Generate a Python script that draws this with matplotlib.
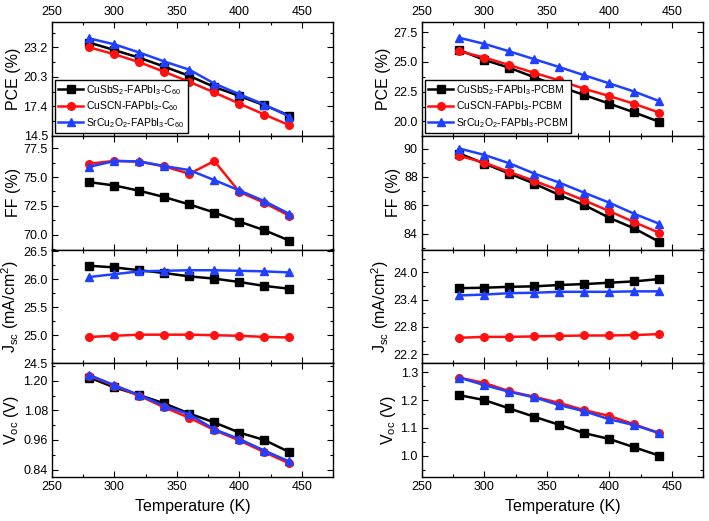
import matplotlib
matplotlib.use("Agg")
import matplotlib.pyplot as plt
from matplotlib.ticker import AutoMinorLocator, FormatStrFormatter, FixedLocator

plt.rcParams['font.family'] = ['Liberation Sans', 'DejaVu Sans']
plt.rcParams['mathtext.default'] = 'regular'

temps = [280, 300, 320, 340, 360, 380, 400, 420, 440]

# left column: ETL = C60
pce_c60_sbs = [23.67, 22.93, 22.18, 21.30, 20.39, 19.30, 18.42, 17.50, 16.49]
pce_c60_scn = [23.20, 22.52, 21.74, 20.79, 19.81, 18.76, 17.67, 16.59, 15.54]
pce_c60_sr = [24.08, 23.50, 22.69, 21.81, 21.00, 19.64, 18.59, 17.57, 16.39]
ff_c60_sbs = [74.56, 74.27, 73.81, 73.26, 72.62, 71.92, 71.13, 70.38, 69.48]
ff_c60_scn = [76.16, 76.42, 76.34, 75.93, 75.29, 76.40, 73.72, 72.76, 71.63]
ff_c60_sr = [75.90, 76.40, 76.37, 75.96, 75.61, 74.74, 73.84, 72.91, 71.80]
jsc_c60_sbs = [26.24, 26.21, 26.16, 26.11, 26.05, 26.01, 25.95, 25.88, 25.83]
jsc_c60_scn = [24.97, 24.99, 25.01, 25.01, 25.01, 25.00, 24.99, 24.97, 24.96]
jsc_c60_sr = [26.04, 26.09, 26.14, 26.15, 26.16, 26.16, 26.15, 26.14, 26.12]
voc_c60_sbs = [1.213, 1.173, 1.142, 1.108, 1.067, 1.031, 0.990, 0.960, 0.911]
voc_c60_scn = [1.220, 1.180, 1.139, 1.092, 1.050, 1.000, 0.958, 0.911, 0.865]
voc_c60_sr = [1.223, 1.182, 1.142, 1.098, 1.064, 1.003, 0.964, 0.917, 0.873]

# right column: ETL = PCBM
pce_pcbm_sbs = [26.00, 25.17, 24.51, 23.71, 22.94, 22.22, 21.50, 20.76, 19.97]
pce_pcbm_scn = [25.89, 25.37, 24.74, 24.08, 23.45, 22.74, 22.14, 21.48, 20.74]
pce_pcbm_sr = [27.03, 26.52, 25.89, 25.23, 24.57, 23.88, 23.20, 22.51, 21.71]
ff_pcbm_sbs = [89.65, 88.94, 88.24, 87.53, 86.73, 86.02, 85.13, 84.38, 83.44]
ff_pcbm_scn = [89.48, 89.01, 88.35, 87.72, 87.06, 86.35, 85.60, 84.82, 84.07]
ff_pcbm_sr = [90.00, 89.55, 88.96, 88.24, 87.60, 86.89, 86.19, 85.41, 84.71]
jsc_pcbm_sbs = [23.65, 23.66, 23.68, 23.69, 23.72, 23.74, 23.77, 23.80, 23.85]
jsc_pcbm_scn = [22.56, 22.58, 22.58, 22.59, 22.60, 22.61, 22.61, 22.62, 22.64]
jsc_pcbm_sr = [23.49, 23.51, 23.54, 23.55, 23.57, 23.57, 23.57, 23.58, 23.58]
voc_pcbm_sbs = [1.218, 1.200, 1.170, 1.140, 1.111, 1.081, 1.060, 1.030, 1.000]
voc_pcbm_scn = [1.281, 1.262, 1.232, 1.212, 1.190, 1.164, 1.143, 1.113, 1.081]
voc_pcbm_sr = [1.281, 1.254, 1.230, 1.210, 1.182, 1.160, 1.131, 1.110, 1.081]

labels_c60 = ['CuSbS$_2$-FAPbI$_3$-C$_{60}$', 'CuSCN-FAPbI$_3$-C$_{60}$',
              'SrCu$_2$O$_2$-FAPbI$_3$-C$_{60}$']
labels_pcbm = ['CuSbS$_2$-FAPbI$_3$-PCBM', 'CuSCN-FAPbI$_3$-PCBM',
               'SrCu$_2$O$_2$-FAPbI$_3$-PCBM']

colors = ['black', '#ff1010', '#2040ff']
markers = ['s', 'o', '^']

ylabels = ['PCE (%)', 'FF (%)', 'J$_{sc}$ (mA/cm$^2$)', 'V$_{oc}$ (V)']

left_data = [
    (pce_c60_sbs, pce_c60_scn, pce_c60_sr),
    (ff_c60_sbs, ff_c60_scn, ff_c60_sr),
    (jsc_c60_sbs, jsc_c60_scn, jsc_c60_sr),
    (voc_c60_sbs, voc_c60_scn, voc_c60_sr),
]
right_data = [
    (pce_pcbm_sbs, pce_pcbm_scn, pce_pcbm_sr),
    (ff_pcbm_sbs, ff_pcbm_scn, ff_pcbm_sr),
    (jsc_pcbm_sbs, jsc_pcbm_scn, jsc_pcbm_sr),
    (voc_pcbm_sbs, voc_pcbm_scn, voc_pcbm_sr),
]

left_ylims = [(14.5, 25.7), (68.7, 78.6), (24.5, 26.53), (0.81, 1.271)]
left_yticks = [[14.5, 17.4, 20.3, 23.2], [70.0, 72.5, 75.0, 77.5],
               [24.5, 25.0, 25.5, 26.0, 26.5], [0.84, 0.96, 1.08, 1.20]]
left_fmt = ['%.1f', '%.1f', '%.1f', '%.2f']

right_ylims = [(18.8, 28.36), (82.9, 90.9), (22.0, 24.5), (0.923, 1.333)]
right_yticks = [[20.0, 22.5, 25.0, 27.5], [84, 86, 88, 90],
                [22.2, 22.8, 23.4, 24.0], [1.0, 1.1, 1.2, 1.3]]
right_fmt = ['%.1f', '%.0f', '%.1f', '%.1f']

fig = plt.figure(figsize=(7.09, 5.21), dpi=100)

W, H = 709.0, 521.0
top_px, bot_px = 22.0, 477.0
panel_h = (bot_px - top_px) / 4


def draw_column(x0_px, data, ylims, yticks, fmts, legend_labels):
    for i in range(4):
        y_top = top_px + i * panel_h
        ax = fig.add_axes([x0_px / W, 1 - (y_top + panel_h) / H,
                           281 / W, panel_h / H])
        for series, c, m, lab in zip(data[i], colors, markers, legend_labels):
            ax.plot(temps, series, color=c, marker=m, markersize=5.5,
                    linewidth=1.8, label=lab)
        ax.set_xlim(250, 475)
        ax.set_ylim(*ylims[i])
        ax.yaxis.set_major_locator(FixedLocator(yticks[i]))
        ax.yaxis.set_major_formatter(FormatStrFormatter(fmts[i]))
        ax.yaxis.set_minor_locator(AutoMinorLocator(2))
        ax.set_xticks([250, 300, 350, 400, 450])
        ax.xaxis.set_minor_locator(AutoMinorLocator(2))
        ax.tick_params(which='both', direction='in', top=True, right=True,
                       labelsize=9, pad=3)
        ax.tick_params(which='major', length=4, width=0.8)
        ax.tick_params(which='minor', length=2.5, width=0.8)
        ax.tick_params(axis='x', labelbottom=(i == 3), labeltop=(i == 0))
        for s in ax.spines.values():
            s.set_linewidth(1.0)
        ax.set_ylabel(ylabels[i], fontsize=11.5, labelpad=2)
        if i == 0:
            ax.legend(loc='lower left', fontsize=7.5, frameon=True,
                      fancybox=False, edgecolor='black', framealpha=1,
                      handlelength=2.4, handletextpad=0.3, borderpad=0.3,
                      labelspacing=0.25, borderaxespad=0.3)
        if i == 3:
            ax.set_xlabel('Temperature (K)', fontsize=11.5)


draw_column(52, left_data, left_ylims, left_yticks, left_fmt, labels_c60)
draw_column(422, right_data, right_ylims, right_yticks, right_fmt, labels_pcbm)

fig.savefig('out.png', dpi=100)
